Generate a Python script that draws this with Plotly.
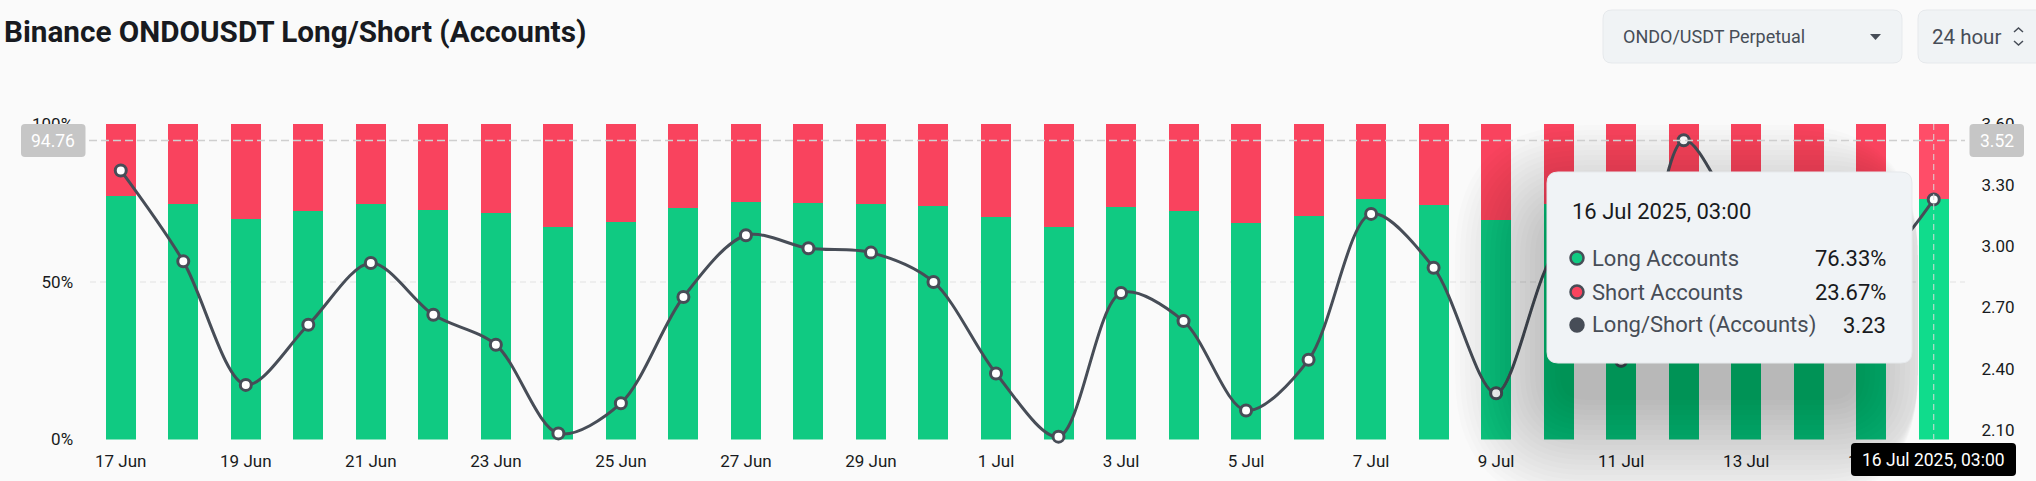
#Data viz
import plotly.graph_objs as go

W = 2036
H = 481

days = ['17 Jun', '18 Jun', '19 Jun', '20 Jun', '21 Jun', '22 Jun', '23 Jun', '24 Jun', '25 Jun', '26 Jun',
        '27 Jun', '28 Jun', '29 Jun', '30 Jun', '1 Jul', '2 Jul', '3 Jul', '4 Jul', '5 Jul', '6 Jul',
        '7 Jul', '8 Jul', '9 Jul', '10 Jul', '11 Jul', '12 Jul', '13 Jul', '14 Jul', '15 Jul', '16 Jul']
long_pct = [77.2, 74.6, 69.8, 72.3, 74.5, 72.7, 71.7, 67.4, 69.0, 73.4,
            75.4, 74.9, 74.7, 73.9, 70.4, 67.3, 73.6, 72.5, 68.7, 71.0,
            76.1, 74.3, 69.6, 74.8, 70.9, 77.9, 74.0, 73.0, 72.0, 76.33]
short_pct = [22.8, 25.4, 30.2, 27.7, 25.5, 27.3, 28.3, 32.6, 31.0, 26.6,
             24.6, 25.1, 25.3, 26.1, 29.6, 32.7, 26.4, 27.5, 31.3, 29.0,
             23.9, 25.7, 30.4, 25.2, 29.1, 22.1, 26.0, 27.0, 28.0, 23.67]
ratio = [3.372, 2.926, 2.320, 2.615, 2.918, 2.664, 2.517, 2.082, 2.230, 2.751,
         3.054, 2.990, 2.969, 2.825, 2.376, 2.066, 2.771, 2.633, 2.194, 2.443,
         3.159, 2.895, 2.279, 2.970, 2.438, 3.520, 3.100, 2.950, 2.900, 3.23]
x_ticks = ['17 Jun', '19 Jun', '21 Jun', '23 Jun', '25 Jun', '27 Jun', '29 Jun', '1 Jul',
           '3 Jul', '5 Jul', '7 Jul', '9 Jul', '11 Jul', '13 Jul', '15 Jul']
left_ticks = [0, 50, 100]
left_labels = ['0%', '50%', '100%']
right_ticks = [2.10, 2.40, 2.70, 3.00, 3.30, 3.60]
hover_day = '16 Jul'
hover_left = 94.76
hover_right = 3.52

FONT = 'Roboto'
GREEN = '#10ca82'
RED = '#f9435e'
DARK = '#474d57'
INK = '#181a20'


#pixel position -> paper coordinates (margins are zero so paper is the whole page)
def px(x):
    return x / W

def py(y):
    return 1 - y / H

def round_rect(x0, y0, x1, y1, r):
    return (f'M {px(x0 + r)} {py(y0)} L {px(x1 - r)} {py(y0)} Q {px(x1)} {py(y0)} {px(x1)} {py(y0 + r)} '
            f'L {px(x1)} {py(y1 - r)} Q {px(x1)} {py(y1)} {px(x1 - r)} {py(y1)} '
            f'L {px(x0 + r)} {py(y1)} Q {px(x0)} {py(y1)} {px(x0)} {py(y1 - r)} '
            f'L {px(x0)} {py(y0 + r)} Q {px(x0)} {py(y0)} {px(x0 + r)} {py(y0)} Z')

def box(x0, y0, x1, y1, r, fill, line='rgba(0,0,0,0)', layer='above'):
    return dict(type='path', xref='paper', yref='paper', path=round_rect(x0, y0, x1, y1, r),
                fillcolor=fill, line=dict(color=line, width=1), layer=layer)

def label(x, y, text, size, color=INK, anchor='left', weight=None):
    return dict(xref='paper', yref='paper', x=px(x), y=py(y), text=text, showarrow=False,
                xanchor=anchor, yanchor='middle', borderpad=0,
                font=dict(family=FONT, size=size, color=color, weight=weight))


#declare Figure
fig = go.Figure()

green_colors = ['#10dc8c' if d == hover_day else GREEN for d in days]
red_colors = ['#ff4d68' if d == hover_day else RED for d in days]
fig.add_trace(go.Bar(x=days, y=long_pct, name='Long Accounts', marker=dict(color=green_colors, line_width=0)))
fig.add_trace(go.Bar(x=days, y=short_pct, name='Short Accounts', marker=dict(color=red_colors, line_width=0)))
fig.add_trace(go.Scatter(x=days, y=ratio, name='Long/Short (Accounts)', yaxis='y2', mode='lines+markers',
                         line=dict(color=DARK, width=3, shape='spline', smoothing=0.9),
                         marker=dict(color='white', size=11, line=dict(color=DARK, width=3)),
                         cliponaxis=False))

shapes = []
#tooltip shadow, stacked soft rectangles, stops at the hovered bar
for i in range(22):
    grow = 110 - i * 5
    shapes.append(box(1565 - grow, 235 - grow, min(1850 + grow, 1918), 395 + grow, 20 + grow, 'rgba(0,0,0,0.011)'))
#crosshair
shapes.append(dict(type='line', xref='paper', yref='y', x0=px(89), x1=px(1965), y0=hover_left, y1=hover_left,
                   line=dict(color='#cfcfcf', width=1.5, dash='8px,4px'), layer='above'))
shapes.append(dict(type='line', xref='x', yref='paper', x0=hover_day, x1=hover_day, y0=py(124), y1=py(439),
                   line=dict(color='#d8d8d8', width=1, dash='6px,4px'), layer='above'))
#value badges on both axes
shapes.append(box(21, 124, 85.5, 157, 4, '#c6c6c6'))
shapes.append(box(1969.5, 124, 2024, 157, 4, '#c6c6c6'))
#time badge
shapes.append(box(1851, 443, 2016, 476, 4, '#000000'))
#dropdowns
shapes.append(box(1603, 10, 1902, 63, 9, '#f0f3f5', '#e6e9ec', 'below'))
shapes.append(box(1918, 10, 2050, 63, 9, '#f0f3f5', '#e6e9ec', 'below'))
shapes.append(dict(type='path', xref='paper', yref='paper', fillcolor=DARK, line_width=0,
                   path=f'M {px(1870)} {py(34)} L {px(1881)} {py(34)} L {px(1875.5)} {py(40)} Z'))
shapes.append(dict(type='path', xref='paper', yref='paper', line=dict(color=DARK, width=1.5),
                   path=f'M {px(2014)} {py(32)} L {px(2018.5)} {py(28)} L {px(2023)} {py(32)}'))
shapes.append(dict(type='path', xref='paper', yref='paper', line=dict(color=DARK, width=1.5),
                   path=f'M {px(2014)} {py(41)} L {px(2018.5)} {py(45)} L {px(2023)} {py(41)}'))
#tooltip
shapes.append(box(1547, 172, 1912, 363, 11, '#f0f3f6', '#e6e9ec'))
for y, color in zip([258, 292, 325], [GREEN, RED, DARK]):
    shapes.append(dict(type='circle', xref='paper', yref='paper', x0=px(1570.5), x1=px(1583.5),
                       y0=py(y - 6.5), y1=py(y + 6.5), fillcolor=color, line=dict(color=DARK, width=2.5)))

annotations = [
    label(3, 31, 'Binance ONDOUSDT Long/Short (Accounts)', 29.7, INK, weight=700),
    label(1622, 37, 'ONDO/USDT Perpetual', 18, DARK),
    label(1931, 37, '24 hour', 20.5, DARK),
    label(53.2, 140.5, f'{hover_left}', 17.5, 'white', 'center'),
    label(1997, 140.5, f'{hover_right}', 17.5, 'white', 'center'),
    label(1933.5, 459.5, '16 Jul 2025, 03:00', 17.5, 'white', 'center'),
    label(1570.5, 211, '16 Jul 2025, 03:00', 22, INK),
    label(1590.5, 258.5, 'Long Accounts', 22, DARK),
    label(1590.5, 292, 'Short Accounts', 22, DARK),
    label(1590.5, 325, 'Long/Short (Accounts)', 22, DARK),
    label(1887, 258.5, '76.33%', 22, INK, 'right'),
    label(1887, 292, '23.67%', 22, INK, 'right'),
    label(1887, 325, '3.23', 22, INK, 'right'),
]

fig.update_layout(
    width=W, height=H, margin=dict(l=0, r=0, t=0, b=0), autosize=False,
    barmode='stack', bargap=0.52, showlegend=False, hovermode=False,
    paper_bgcolor='#fafafa', plot_bgcolor='rgba(0,0,0,0)',
    font=dict(family=FONT, color=INK),
    shapes=shapes, annotations=annotations,
    xaxis=dict(type='category', categoryorder='array', categoryarray=days, range=[-0.5, 29.5],
               domain=[px(89.5), px(1965)], tickmode='array', tickvals=x_ticks, ticktext=x_ticks,
               tickangle=0, ticks='outside', ticklen=6, tickcolor='rgba(0,0,0,0)', tickfont=dict(size=17, color=INK),
               showgrid=False, zeroline=False, showline=False, automargin=False),
    yaxis=dict(domain=[py(439.5), py(124)], range=[0, 100], tickmode='array', tickvals=left_ticks, ticktext=left_labels,
               ticks='outside', ticklen=12, tickcolor='rgba(0,0,0,0)', tickfont=dict(size=17, color=INK),
               showgrid=True, gridcolor='#eeeeee', griddash='6px,4px', gridwidth=1.5, zeroline=False, automargin=False),
    yaxis2=dict(overlaying='y', side='right', range=[2.052, 3.60], tickmode='array', tickvals=right_ticks,
                tickformat='.2f', ticks='outside', ticklen=12, tickcolor='rgba(0,0,0,0)', tickfont=dict(size=17, color=INK),
                showgrid=False, zeroline=False, automargin=False),
)

fig.write_html('out.html', config={'displayModeBar': False},
               post_script="document.body.style.margin='0';document.body.style.background='#fafafa';")
